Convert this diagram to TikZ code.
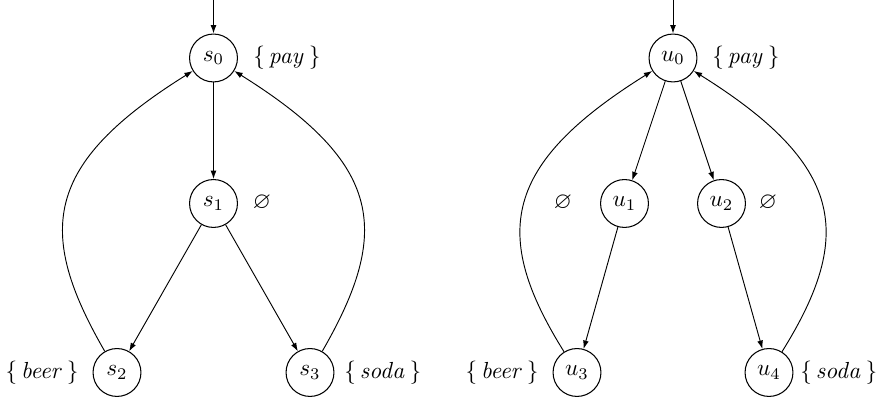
\documentclass[tikz,border=0pt]{standalone}
\usepackage{amssymb}
\usetikzlibrary{arrows.meta}
\begin{document}
\begin{tikzpicture}[x=0.43pt,y=0.43pt,
  state/.style={circle,draw,line width=0.45pt,minimum size=20.6pt,inner sep=0pt},
  lab/.style={inner sep=0pt},
  edge/.style={-{Latex[length=3.6pt,width=2.5pt]},line width=0.4pt},
  back/.style={edge,out looseness=1.21,in looseness=1.53}]
\useasboundingbox (0,0) rectangle (880,401);
% left system
\node[state] (s0) at (213.5,343) {$s_0$};
\node[state] (s1) at (213.5,197.5) {$s_1$};
\node[state] (s2) at (117,28.5) {$s_2$};
\node[state] (s3) at (310,28.5) {$s_3$};
\coordinate (is) at (213.5,401);
\node[lab,anchor=west] (ls0) at (253,343) {$\{\,\mathit{pay}\,\}$};
\node[lab] (ls1) at (262,198) {$\varnothing$};
\node[lab,anchor=east] (ls2) at (79,28.5) {$\{\,\mathit{beer}\,\}$};
\node[lab,anchor=west] (ls3) at (344,28.5) {$\{\,\mathit{soda}\,\}$};
\draw[edge] (is) -- (s0);
\draw[edge] (s0) -- (s1);
\draw[edge] (s1) -- (s2);
\draw[edge] (s1) -- (s3);
\draw[back] (s2) to[out=120,in=212] (s0);
\draw[back] (s3) to[out=60,in=-32] (s0);
% right system
\node[state] (u0) at (673,343) {$u_0$};
\node[state] (u1) at (624.5,197.5) {$u_1$};
\node[state] (u2) at (721.5,197.5) {$u_2$};
\node[state] (u3) at (577,28.5) {$u_3$};
\node[state] (u4) at (769,28.5) {$u_4$};
\coordinate (iu) at (673,401);
\node[lab,anchor=west] (lu0) at (712,343) {$\{\,\mathit{pay}\,\}$};
\node[lab] (lu1) at (563,198) {$\varnothing$};
\node[lab] (lu2) at (768,198) {$\varnothing$};
\node[lab,anchor=east] (lu3) at (539,28.5) {$\{\,\mathit{beer}\,\}$};
\node[lab,anchor=west] (lu4) at (800,28.5) {$\{\,\mathit{soda}\,\}$};
\draw[edge] (iu) -- (u0);
\draw[edge] (u0) -- (u1);
\draw[edge] (u0) -- (u2);
\draw[edge] (u1) -- (u3);
\draw[edge] (u2) -- (u4);
\draw[back] (u3) to[out=122,in=212] (u0);
\draw[back] (u4) to[out=58,in=-32] (u0);
\end{tikzpicture}
\end{document}
